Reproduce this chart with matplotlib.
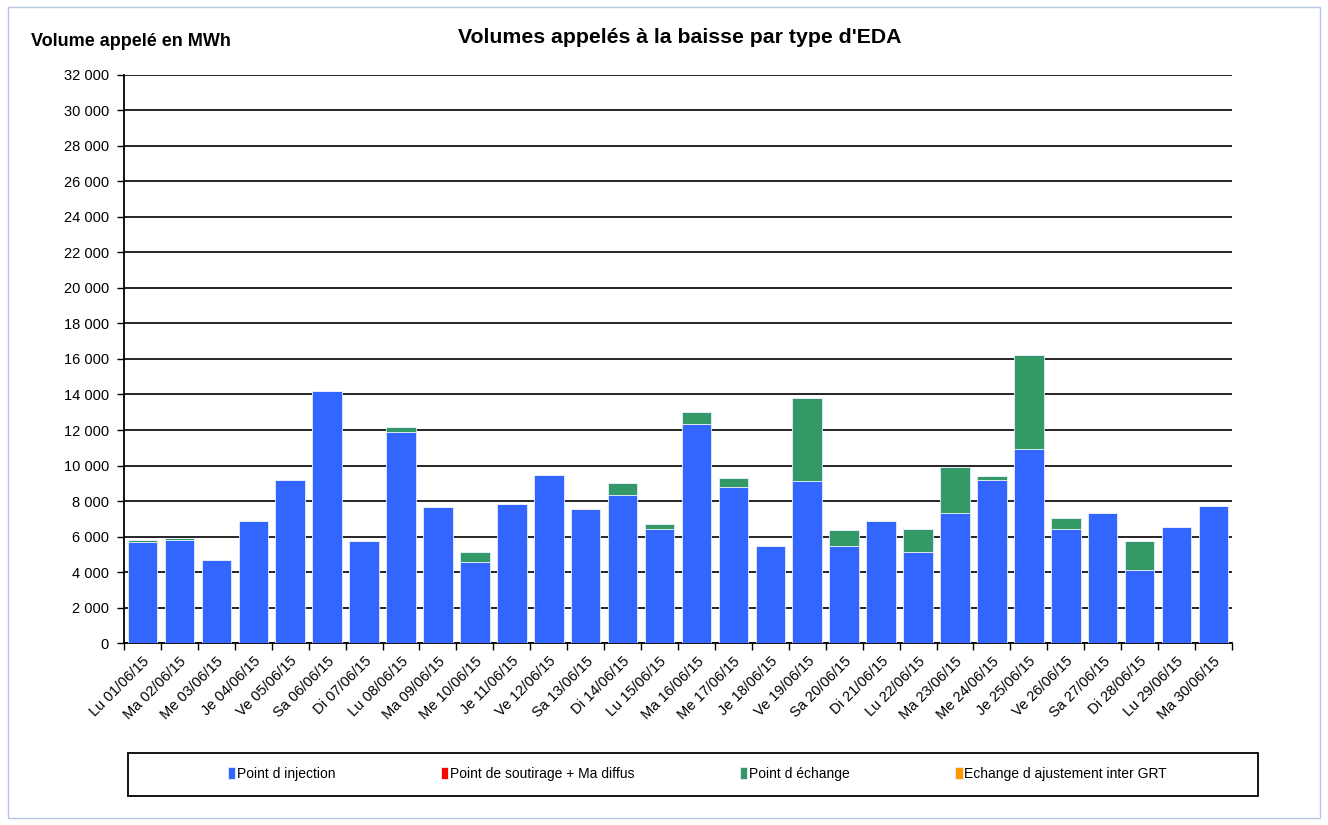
import matplotlib
matplotlib.use("Agg")
import matplotlib.pyplot as plt
import matplotlib.patches as patches
from matplotlib.ticker import FuncFormatter, FixedLocator
import numpy as np

days = ["Lu 01/06/15", "Ma 02/06/15", "Me 03/06/15", "Je 04/06/15", "Ve 05/06/15",
        "Sa 06/06/15", "Di 07/06/15", "Lu 08/06/15", "Ma 09/06/15", "Me 10/06/15",
        "Je 11/06/15", "Ve 12/06/15", "Sa 13/06/15", "Di 14/06/15", "Lu 15/06/15",
        "Ma 16/06/15", "Me 17/06/15", "Je 18/06/15", "Ve 19/06/15", "Sa 20/06/15",
        "Di 21/06/15", "Lu 22/06/15", "Ma 23/06/15", "Me 24/06/15", "Je 25/06/15",
        "Ve 26/06/15", "Sa 27/06/15", "Di 28/06/15", "Lu 29/06/15", "Ma 30/06/15"]

injection = [5680, 5810, 4700, 6870, 9210, 14210, 5740, 11890, 7640, 4550,
             7830, 9450, 7570, 8340, 6440, 12320, 8780, 5470, 9110, 5470,
             6870, 5130, 7300, 9190, 10950, 6440, 7300, 4100, 6510, 7740]
soutirage = [0] * 30
echange = [150, 130, 0, 0, 0, 0, 0, 260, 0, 600,
           0, 0, 0, 700, 260, 700, 510, 0, 4680, 870,
           0, 1300, 2600, 210, 5280, 600, 0, 1660, 0, 0]
ajustement = [0] * 30

series = ["Point d injection", "Point de soutirage + Ma diffus",
          "Point d échange", "Echange d ajustement inter GRT"]
colors = ["#3366FF", "#FF0000", "#339966", "#FF9900"]

plt.rcParams['font.family'] = ['Liberation Sans', 'DejaVu Sans']

fig = plt.figure(figsize=(13.28, 8.25), dpi=100)
ax = fig.add_axes([0.0934, 0.2206, 0.8343, 0.6885])

x = np.arange(len(days))
bottom = np.zeros(len(days))
handles = []
for vals, col, lab in zip([injection, soutirage, echange, ajustement], colors, series):
    b = ax.bar(x, vals, bottom=bottom, width=0.8, color=col, edgecolor='#e8ecff',
               linewidth=0.6, label=lab, zorder=3)
    handles.append(b)
    bottom = bottom + np.array(vals)

ax.set_xlim(-0.5, len(days) - 0.5)
ax.set_ylim(0, 32000)
ax.set_yticks(np.arange(0, 32001, 2000))
ax.yaxis.set_major_formatter(FuncFormatter(lambda v, p: f"{int(v):,}".replace(",", " ")))
ax.grid(axis='y', color='black', linewidth=1.2, zorder=0)

# tick marks between categories, labels at category centres
ax.xaxis.set_major_locator(FixedLocator(np.arange(-0.5, len(days), 1.0)))
ax.xaxis.set_major_formatter(FuncFormatter(lambda v, p: ""))
ax.set_xticks(x, minor=True)
ax.set_xticklabels(days, minor=True, rotation=45, ha='right', rotation_mode='anchor',
                   fontsize=10.5)
ax.tick_params(axis='x', which='minor', length=0, pad=8)
ax.tick_params(axis='x', which='major', length=5, width=1, color='black')
ax.tick_params(axis='y', length=5, width=1, labelsize=10.5, pad=6)

for s in ['top', 'right']:
    ax.spines[s].set_visible(False)
for s in ['left', 'bottom']:
    ax.spines[s].set_linewidth(1.3)

fig.text(0.512, 0.955, "Volumes appelés à la baisse par type d'EDA", ha='center',
         va='center', fontsize=15.3, fontweight='bold')
fig.text(0.023, 0.950, "Volume appelé en MWh", ha='left', va='center',
         fontsize=13, fontweight='bold')

# legend box
fig.patches.append(patches.Rectangle((0.0964, 0.0352), 0.851, 0.0521,
                                     transform=fig.transFigure, fill=False,
                                     edgecolor='black', linewidth=1.3))
fig.legend(handles=handles, loc='center', bbox_to_anchor=(0.525, 0.0618), ncol=4,
           frameon=False, fontsize=10, handlelength=0.55, handleheight=0.9,
           handletextpad=0.1, columnspacing=7.6)

# outer border
fig.patches.append(patches.Rectangle((0.006, 0.008), 0.988, 0.984,
                                     transform=fig.transFigure, fill=False,
                                     edgecolor='#b4c6e0', linewidth=1))

fig.savefig("out.png", dpi=100)
